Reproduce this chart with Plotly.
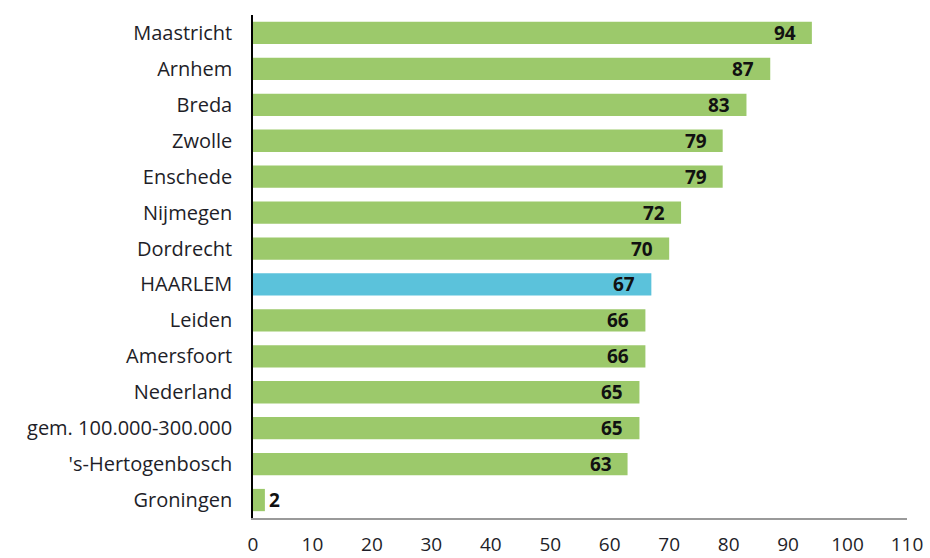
import plotly.graph_objects as go

categories = ["Maastricht", "Arnhem", "Breda", "Zwolle", "Enschede", "Nijmegen",
              "Dordrecht", "HAARLEM", "Leiden", "Amersfoort", "Nederland",
              "gem. 100.000-300.000", "'s-Hertogenbosch", "Groningen"]
values = [94, 87, 83, 79, 79, 72, 70, 67, 66, 66, 65, 65, 63, 2]
highlight = "HAARLEM"
x_ticks = list(range(0, 111, 10))

GREEN = "#9CC96B"
BLUE = "#5BC2DB"
colors = [BLUE if c == highlight else GREEN for c in categories]

FONT = "Open Sans"
TXT = "#1e1e28"

fig = go.Figure(go.Bar(
    x=values, y=categories, orientation="h",
    marker=dict(color=colors, line=dict(width=0)),
    width=0.62,
    hoverinfo="skip",
))

annotations = []
for c, v in zip(categories, values):
    inside = v > 10
    annotations.append(dict(
        x=v, y=c, xref="x", yref="y", text=f"<b>{v}</b>", showarrow=False,
        xanchor="right" if inside else "left", xshift=-14 if inside else 2,
        font=dict(family=FONT, size=19, color="#111111"),
    ))

fig.update_layout(
    width=930, height=558,
    margin=dict(l=253, r=23, t=15, b=40, autoexpand=False),
    paper_bgcolor="white", plot_bgcolor="white",
    showlegend=False,
    annotations=annotations,
    font=dict(family=FONT, size=20, color=TXT),
)
fig.update_yaxes(
    categoryorder="array", categoryarray=categories[::-1],
    showline=True, linecolor="#000000", linewidth=1.5,
    showgrid=False, ticks="", ticklabelstandoff=15, automargin=False,
    tickfont=dict(family=FONT, size=20, color=TXT),
)
fig.update_xaxes(
    range=[0, 110], tickvals=x_ticks,
    showline=True, linecolor="#9a9a9a", linewidth=1.5,
    showgrid=False, zeroline=False, ticks="", ticklabelstandoff=8, automargin=False,
    tickfont=dict(family=FONT, size=19, color=TXT),
)

fig.write_html("out.html", config={"displayModeBar": False},
               post_script="document.body.style.margin='0';")
